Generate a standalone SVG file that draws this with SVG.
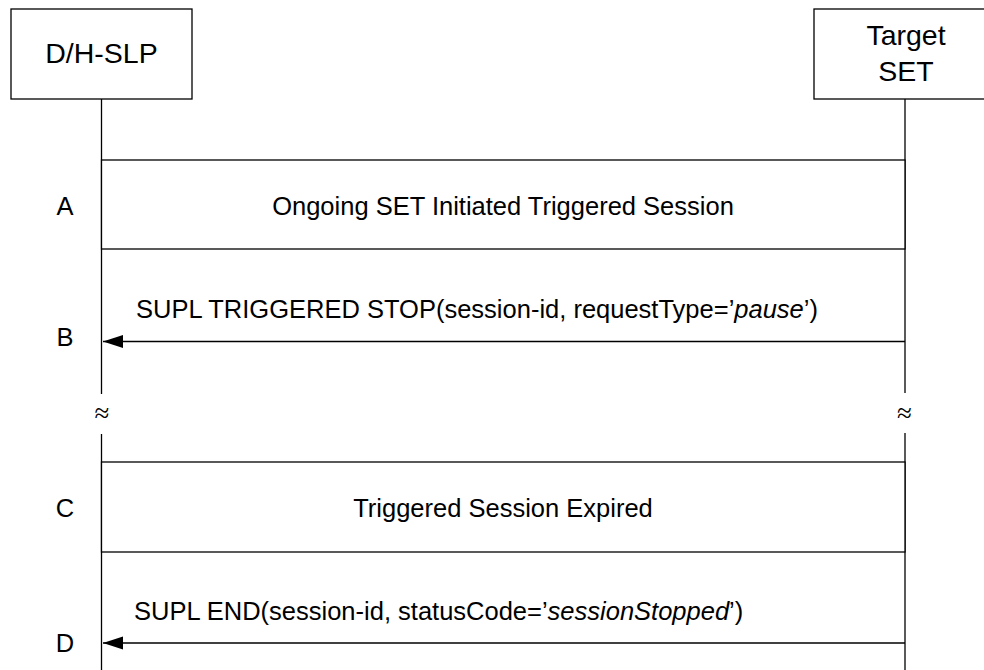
<svg xmlns="http://www.w3.org/2000/svg" width="984" height="670" viewBox="0 0 984 670">
<style>
.box{fill:#fff;stroke:#000;stroke-width:1.3}
.line{stroke:#000;stroke-width:1.3;fill:none}
.hdr{font-family:"Liberation Sans",Arial,sans-serif;font-size:28.5px;fill:#000;text-anchor:middle}
.txt{font-family:"Liberation Sans",Arial,sans-serif;font-size:25.5px;fill:#000}
.mid{text-anchor:middle}
.brk{font-family:"Liberation Serif","Times New Roman",serif;font-size:27px;fill:#000;text-anchor:middle}
</style>
<defs>
<marker id="ah" markerUnits="userSpaceOnUse" markerWidth="22" markerHeight="14" refX="20" refY="6.5" orient="auto">
<path d="M0,0 L20,6.5 L0,13 Z" fill="#000"/>
</marker>
</defs>
<rect width="984" height="670" fill="#fff"/>
<g id="lifelines">
<line class="line" x1="101.5" y1="99" x2="101.5" y2="394"/>
<line class="line" x1="101.5" y1="434" x2="101.5" y2="670"/>
<line class="line" x1="905" y1="99" x2="905" y2="393"/>
<line class="line" x1="905" y1="433" x2="905" y2="670"/>
<text class="brk" x="102" y="422">≈</text>
<text class="brk" x="904.5" y="422">≈</text>
</g>
<g id="dhslp">
<rect class="box" x="11" y="9" width="181" height="90"/>
<text class="hdr" x="101.5" y="63">D/H-SLP</text>
</g>
<g id="target">
<rect class="box" x="814" y="9" width="181" height="90"/>
<text class="hdr" x="906" y="45">Target</text>
<text class="hdr" x="906" y="81">SET</text>
</g>
<g id="stepA">
<rect class="box" x="101.5" y="160" width="803.5" height="89"/>
<text class="txt mid" x="503" y="215">Ongoing SET Initiated Triggered Session</text>
</g>
<g id="stepC">
<rect class="box" x="101.5" y="462" width="803.5" height="90"/>
<text class="txt mid" x="503" y="517">Triggered Session Expired</text>
</g>
<g id="labels">
<text class="txt mid" x="65" y="215">A</text>
<text class="txt mid" x="65" y="346">B</text>
<text class="txt mid" x="65" y="517">C</text>
<text class="txt mid" x="65" y="652">D</text>
</g>
<g id="connectors">
<line class="line" x1="905" y1="341.5" x2="103" y2="341.5" marker-end="url(#ah)"/>
<text class="txt" x="136" y="318">SUPL TRIGGERED STOP(session-id, requestType=’<tspan font-style="italic">pause</tspan>’)</text>
<line class="line" x1="905" y1="643" x2="103" y2="643" marker-end="url(#ah)"/>
<text class="txt" x="134" y="620">SUPL END(session-id, statusCode=’<tspan font-style="italic">sessionStopped</tspan>’)</text>
</g>
</svg>
